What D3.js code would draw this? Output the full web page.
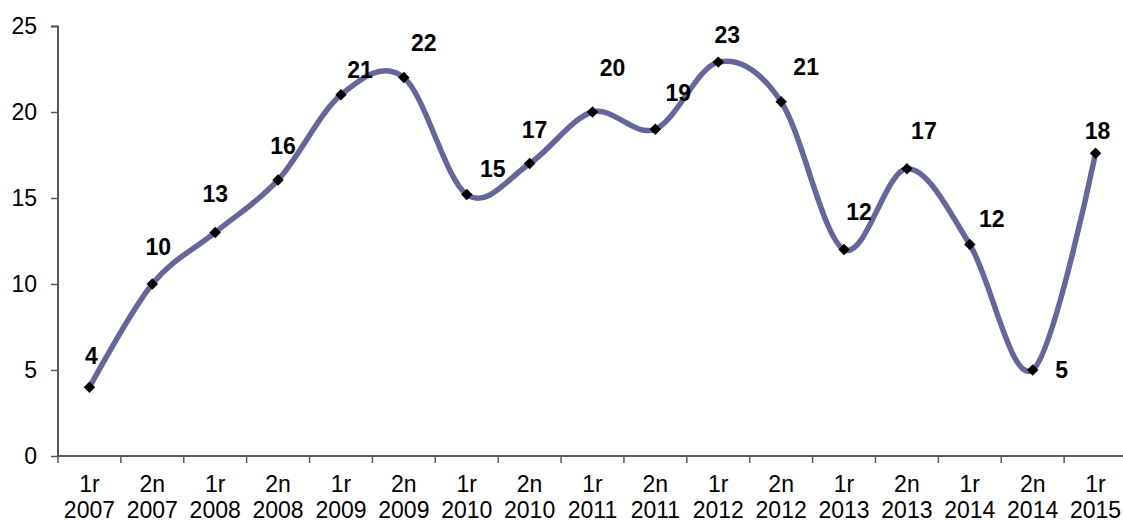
<!DOCTYPE html>
<html>
<head>
<meta charset="utf-8">
<script src="https://cdn.jsdelivr.net/npm/d3@7"></script>
<style>
  body { margin: 0; background: #fff; }
  svg { display: block; font-family: "Liberation Sans", Arial, sans-serif; }
</style>
</head>
<body>
<div id="chart"></div>
<script>
/* global d3 */

// periods (two-line labels)
var halves = [ "1r", "2n", "1r", "2n", "1r", "2n", "1r", "2n", "1r", "2n", "1r", "2n", "1r", "2n", "1r", "2n", "1r" ];
var years = [ "2007", "2007", "2008", "2008", "2009", "2009", "2010", "2010", "2011", "2011", "2012", "2012", "2013", "2013", "2014", "2014", "2015" ];
var values = [ 4, 10, 13, 16.05, 21, 22, 15.2, 17, 20, 19, 22.9, 20.6, 12, 16.7, 12.3, 5, 17.6 ];
var yTicks = [ 0, 5, 10, 15, 20, 25 ];

// label nudges [dx, dy] from each point to the label centre
var labelShift = [ [ 2, -31 ], [ 6, -37 ], [ 0, -38 ], [ 5, -34 ], [ 19, -25 ], [ 20, -35 ],
  [ 26, -26 ], [ 5, -34 ], [ 20, -44 ], [ 23, -36 ], [ 9, -27 ], [ 25, -35 ],
  [ 15, -38 ], [ 17, -38 ], [ 22, -25 ], [ 29, 0 ], [ 2, -22 ] ];

var width = 1123, height = 522;
var margin = { top: 26, right: 0, bottom: 66, left: 58 };
var innerWidth = 1069, innerHeight = height - margin.top - margin.bottom;

var svg = d3.select( "#chart" ).append( "svg" )
  .attr( "width", width )
  .attr( "height", height );

var g = svg.append( "g" )
  .attr( "transform", "translate(" + margin.left + "," + margin.top + ")" );

var x = d3.scaleBand()
  .domain( d3.range( values.length ) )
  .range( [ 0, innerWidth ] );

var y = d3.scaleLinear()
  .domain( [ 0, 25 ] )
  .range( [ innerHeight, 0 ] );

var axisColor = "#595959";

// y axis
var yAxis = g.append( "g" )
  .call( d3.axisLeft( y ).tickValues( yTicks ).tickSize( 7 ).tickPadding( 14 ) );
yAxis.select( ".domain" ).attr( "stroke", axisColor ).attr( "stroke-width", 2 ).attr( "d", "M-7,0.5H0V" + innerHeight );
yAxis.selectAll( ".tick line" ).attr( "stroke", axisColor ).attr( "stroke-width", 1.5 );
yAxis.selectAll( ".tick text" )
  .attr( "font-size", 23 )
  .attr( "fill", "#000" )
  .attr( "font-family", "Liberation Sans, Arial, sans-serif" );

// x axis: line + boundary ticks
var xAxis = g.append( "g" ).attr( "transform", "translate(0," + innerHeight + ")" );
xAxis.append( "line" )
  .attr( "x1", 0 ).attr( "x2", innerWidth )
  .attr( "stroke", axisColor ).attr( "stroke-width", 2 );
xAxis.selectAll( ".xtick" )
  .data( d3.range( values.length + 1 ) )
  .enter().append( "line" )
    .attr( "class", "xtick" )
    .attr( "x1", function( i ) { return i * x.step(); } )
    .attr( "x2", function( i ) { return i * x.step(); } )
    .attr( "y1", 0 ).attr( "y2", 7 )
    .attr( "stroke", axisColor ).attr( "stroke-width", 1.5 );

var xLabels = xAxis.selectAll( ".xlabel" )
  .data( d3.range( values.length ) )
  .enter().append( "text" )
    .attr( "class", "xlabel" )
    .attr( "text-anchor", "middle" )
    .attr( "font-size", 23 )
    .attr( "fill", "#000" );
xLabels.append( "tspan" )
  .attr( "x", function( i ) { return x( i ) + x.bandwidth() / 2; } )
  .attr( "y", 36 )
  .text( function( i ) { return halves[ i ]; } );
xLabels.append( "tspan" )
  .attr( "x", function( i ) { return x( i ) + x.bandwidth() / 2; } )
  .attr( "y", 62 )
  .text( function( i ) { return years[ i ]; } );

// smoothed line
var line = d3.line()
  .x( function( d, i ) { return x( i ) + x.bandwidth() / 2; } )
  .y( function( d ) { return y( d ); } )
  .curve( d3.curveCatmullRom.alpha( 0 ) );

g.append( "path" )
  .datum( values )
  .attr( "fill", "none" )
  .attr( "stroke", "#64669c" )
  .attr( "stroke-width", 5.5 )
  .attr( "stroke-linejoin", "round" )
  .attr( "d", line );

// diamond markers
g.selectAll( ".marker" )
  .data( values )
  .enter().append( "path" )
    .attr( "class", "marker" )
    .attr( "d", d3.symbol( d3.symbolDiamond2, 84 ) )
    .attr( "transform", function( d, i ) {
      return "translate(" + ( x( i ) + x.bandwidth() / 2 ) + "," + y( d ) + ")";
    } )
    .attr( "fill", "#000" );

// value labels
g.selectAll( ".vlabel" )
  .data( values )
  .enter().append( "text" )
    .attr( "class", "vlabel" )
    .attr( "text-anchor", "middle" )
    .attr( "font-size", 23 )
    .attr( "font-weight", "bold" )
    .attr( "fill", "#000" )
    .attr( "x", function( d, i ) { return x( i ) + x.bandwidth() / 2 + labelShift[ i ][ 0 ]; } )
    .attr( "y", function( d, i ) { return y( d ) + labelShift[ i ][ 1 ]; } )
    .attr( "dy", "0.35em" )
    .text( function( d ) { return Math.round( d ); } );
</script>
</body>
</html>
